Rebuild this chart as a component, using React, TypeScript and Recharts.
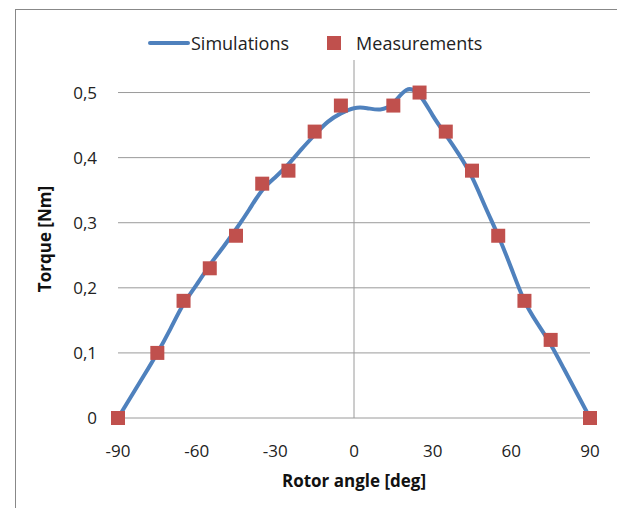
import { ComposedChart, Line, Scatter, XAxis, YAxis, CartesianGrid, ReferenceLine } from "recharts";

const simAngles = [-90, -85, -80, -75, -70, -65, -60, -55, -50, -45, -40, -35, -30, -25, -20, -15, -10, -5, 0, 5, 10, 15, 20, 25, 30, 35, 40, 45, 50, 55, 60, 65, 70, 75, 80, 85, 90];
const simTorque = [0, 0.033, 0.066, 0.1, 0.137, 0.175, 0.205, 0.235, 0.262, 0.29, 0.32, 0.35, 0.37, 0.39, 0.413, 0.435, 0.455, 0.468, 0.476, 0.476, 0.474, 0.484, 0.504, 0.496, 0.465, 0.435, 0.405, 0.37, 0.325, 0.28, 0.23, 0.18, 0.145, 0.113, 0.076, 0.038, 0];

const measAngles = [-90, -75, -65, -55, -45, -35, -25, -15, -5, 15, 25, 35, 45, 55, 65, 75, 90];
const measTorque = [0, 0.1, 0.18, 0.23, 0.28, 0.36, 0.38, 0.44, 0.48, 0.48, 0.5, 0.44, 0.38, 0.28, 0.18, 0.12, 0];

const xTicks = [-90, -60, -30, 0, 30, 60, 90];
const yTicks = [0, 0.1, 0.2, 0.3, 0.4, 0.5];

const simData = simAngles.map((x, i) => ({ x, y: simTorque[i] }));
const measData = measAngles.map((x, i) => ({ x, y: measTorque[i] }));

const BLUE = "#4f81bd";
const RED = "#c0504d";
const GRID = "#9a9a9a";
const FONT = "'Open Sans', sans-serif";

const SquareDot = (props: any) => {
  const { cx, cy } = props;
  return <rect x={cx - 7} y={cy - 7} width={14} height={14} fill={RED} />;
};

export default function App() {
  return (
    <div style={{ position: "absolute", left: 0, top: 0, width: 617, height: 508, background: "#fff", fontFamily: FONT }}>
      <div style={{
        position: "absolute", left: 15, top: 9, width: 602, height: 499,
        borderLeft: "1px solid #888", borderTop: "1px solid #888",
      }} />

      {/* legend */}
      <div style={{ position: "absolute", left: 148, top: 30, height: 26, display: "flex", alignItems: "center", fontSize: 18, color: "#222" }}>
        <div style={{ width: 42, height: 4, background: BLUE, borderRadius: 2 }} />
        <span style={{ marginLeft: 1 }}>Simulations</span>
        <div style={{ width: 14, height: 14, background: RED, marginLeft: 38 }} />
        <span style={{ marginLeft: 15 }}>Measurements</span>
      </div>

      <ComposedChart width={617} height={508} margin={{ top: 60, right: 27, bottom: 0, left: 0 }} style={{ position: "absolute", left: 0, top: 0 }}>
        <CartesianGrid vertical={false} stroke={GRID} horizontalValues={yTicks} />
        <XAxis
          type="number"
          dataKey="x"
          domain={[-90, 90]}
          ticks={xTicks}
          axisLine={false}
          tickLine={false}
          tickMargin={21}
          height={90}
          tick={{ fill: "#222", fontSize: 17, fontFamily: FONT }}
          label={{ value: "Rotor angle [deg]", position: "center", dy: 18, fill: "#111", fontSize: 17, fontWeight: 700, fontFamily: FONT }}
        />
        <YAxis
          type="number"
          dataKey="y"
          domain={[0, 0.55]}
          ticks={yTicks}
          axisLine={false}
          tickLine={false}
          width={118}
          tickMargin={15}
          tickFormatter={(v: number) => String(v).replace(".", ",")}
          tick={{ fill: "#222", fontSize: 17, fontFamily: FONT }}
          label={{ value: "Torque [Nm]", angle: -90, position: "center", dx: -14, fill: "#111", fontSize: 17, fontWeight: 700, fontFamily: FONT }}
        />
        <ReferenceLine x={0} stroke={GRID} />
        <Line data={simData} dataKey="y" type="natural" stroke={BLUE} strokeWidth={4} dot={false} isAnimationActive={false} />
        <Scatter data={measData} dataKey="y" shape={SquareDot} isAnimationActive={false} />
      </ComposedChart>
    </div>
  );
}
